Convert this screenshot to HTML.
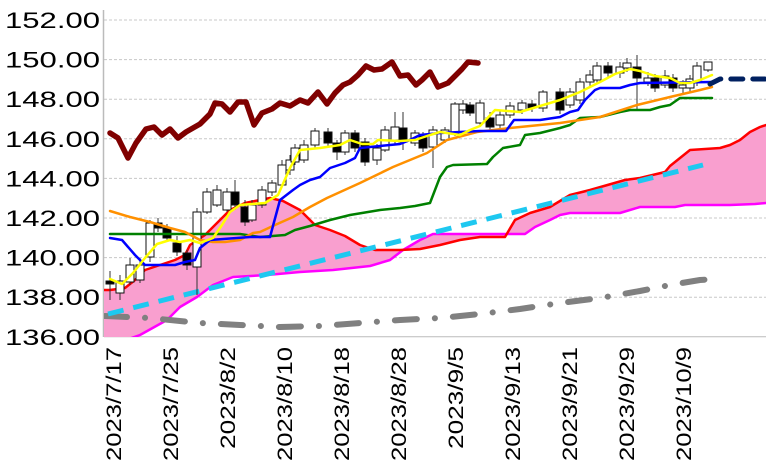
<!DOCTYPE html>
<html><head><meta charset="utf-8">
<style>
html,body{margin:0;padding:0;background:#fff;width:766px;height:472px;overflow:hidden}
svg{display:block;font-family:"Liberation Sans",sans-serif}
</style></head>
<body>
<svg id="s" width="766" height="472" viewBox="0 0 766 472" xmlns="http://www.w3.org/2000/svg">
<defs><clipPath id="c"><rect x="104" y="0" width="662" height="337"/></clipPath></defs>
<g id="grid"></g>
<g clip-path="url(#c)" id="plot"></g>
<g id="labels"></g>
</svg>
<script>
var NS="http://www.w3.org/2000/svg";
function el(p,t,a,txt){var e=document.createElementNS(NS,t);for(var k in a)e.setAttribute(k,a[k]);if(txt!==undefined)e.textContent=txt;document.getElementById(p).appendChild(e);return e;}
function Y(v){return 20+(152-v)*19.8;}
for(var v=136;v<=152;v+=2){var y=Y(v);
 el('grid','line',{x1:104,x2:766,y1:y,y2:y,stroke:v==136?'#bbb':'#c8c8c8','stroke-width':1,'stroke-dasharray':v==136?'':'3,2'});
 el('labels','text',{x:5,y:y+8,'font-size':22,fill:'#000',textLength:95,lengthAdjust:'spacingAndGlyphs'},v.toFixed(2));}
el('grid','line',{x1:103.5,x2:103.5,y1:10,y2:337,stroke:'#bbb','stroke-width':1.5});
var dates=[["2023/7/17",113,114],["2023/7/25",170,114],["2023/8/2",227,102],["2023/8/10",284,114],["2023/8/18",341,114],["2023/8/28",398,114],["2023/9/5",455,102],["2023/9/13",512,114],["2023/9/21",569,114],["2023/9/29",626,114],["2023/10/9",683,114]];
dates.forEach(function(d){el('labels','text',{x:0,y:0,'text-anchor':'end','font-size':21,fill:'#000',textLength:d[2],lengthAdjust:'spacingAndGlyphs',transform:'translate('+(d[1]+8)+',347) rotate(-90)'},d[0]);});
function pts(a){return a.map(function(p){return p[0]+','+p[1]}).join(' ');}
var red=[[100,290],[110,290],[125,288],[135,280],[145,270],[160,265],[175,260],[185,255],[190,245],[205,235],[215,225],[230,210],[245,203],[260,200],[270,198],[283,201],[300,210],[315,225],[330,230],[345,236],[360,245],[375,250],[400,250],[420,249],[440,245],[460,240],[480,237],[505,237],[515,220],[530,213],[550,207],[570,195],[590,190],[625,180],[640,178],[665,172],[670,166],[690,150],[720,148],[730,145],[740,140],[750,132],[760,127],[766,125]];
var mag=[[100,350],[120,342],[140,335],[167,320],[180,307],[197,297],[213,285],[233,277],[267,275],[300,272],[333,270],[370,266],[390,260],[403,250],[420,240],[433,234],[525,234],[535,227],[550,220],[560,215],[570,213],[620,213],[640,207],[675,207],[685,205],[730,205],[755,204],[766,203]];
var poly=red.concat(mag.slice().reverse());
el('plot','polygon',{points:pts(poly),fill:'#f99fcf'});
function line(a,c,w,extra){var o={points:pts(a),fill:'none',stroke:c,'stroke-width':w,'stroke-linejoin':'round','stroke-linecap':'round'};for(var k in extra)o[k]=extra[k];el('plot','polyline',o);}
line(mag,'#ff00ff',2.5);
line(red,'#ff0000',2.5);
line([[105,316],[150,318],[200,323],[240,325],[280,327],[320,326],[360,323],[400,320],[440,318],[480,314],[520,309],[560,303],[600,298],[640,291],[670,285],[700,280],[715,279]],'#808080',6,{'stroke-dasharray':'22,18,0.1,18'});
line([[108,314],[703,165]],'#1ec8f0',5,{'stroke-dasharray':'16,10','stroke-linecap':'butt'});
var C=[[110,281,284,271,300,1],[120,281,293,275,300,0],[130,265,282,258,285,0],[140,265,280,258,283,0],[150,223,257,220,262,0],[158,223,228,218,232,1],[167,228,238,224,242,1],[177,243,252,236,256,1],[187,253,265,250,270,1],[197,212,267,208,295,0],[207,192,212,188,214,0],[217,190,205,185,207,0],[227,192,210,188,212,0],[235,192,205,180,210,1],[245,207,222,200,226,1],[252,205,220,200,222,0],[262,190,205,186,208,0],[272,183,192,180,196,0],[282,165,185,160,188,0],[290,160,170,155,175,0],[295,148,162,144,165,0],[304,145,160,140,163,0],[315,131,145,128,148,0],[328,132,143,128,146,1],[337,143,152,140,160,1],[345,133,152,130,155,0],[355,133,148,130,152,1],[365,142,162,138,166,1],[377,148,160,144,165,0],[385,130,150,126,152,0],[395,127,140,112,144,0],[403,128,142,112,150,1],[415,133,143,130,146,0],[423,135,148,132,152,1],[433,130,147,126,168,0],[445,130,140,127,143,0],[455,104,133,102,136,0],[463,104,110,100,114,0],[470,105,113,102,116,1],[480,103,123,100,126,0],[490,118,127,112,132,1],[500,115,125,110,128,0],[510,106,115,102,118,0],[522,103,110,100,114,0],[532,104,108,100,112,1],[543,92,108,90,112,0],[560,92,110,88,114,1],[570,92,105,88,108,0],[580,82,100,78,104,0],[590,75,82,70,86,0],[597,66,80,62,84,0],[608,66,73,62,78,1],[620,67,73,62,78,0],[627,63,68,58,72,0],[637,67,78,55,110,1],[648,78,82,72,86,0],[655,78,88,74,92,1],[665,76,85,70,88,0],[673,78,88,74,92,1],[683,85,88,80,95,0],[690,79,88,75,92,0],[697,66,82,62,86,0],[708,62,70,62,72,0]];
C.forEach(function(c){var x=c[0];
 el('plot','line',{x1:x,x2:x,y1:c[3],y2:c[4],stroke:'#333','stroke-width':1});
 el('plot','rect',{x:x-4,y:c[1],width:8,height:Math.max(1,c[2]-c[1]),fill:c[5]?'#000':'#fff',stroke:'#111','stroke-width':1});});
line([[110,234],[240,234],[260,237],[285,235],[295,230],[310,226],[330,220],[350,215],[380,210],[400,208],[415,206],[430,203],[440,177],[447,167],[453,165],[487,164],[493,157],[503,148],[520,145],[525,135],[540,133],[560,128],[570,125],[580,118],[600,117],[620,112],[630,110],[650,110],[660,107],[670,105],[680,98],[712,98]],'#008000',2.5);
line([[110,211],[130,217],[150,222],[170,228],[185,232],[200,240],[213,242],[225,242],[240,240],[253,233],[260,232],[275,225],[293,217],[310,207],[327,198],[360,183],[393,167],[427,153],[447,140],[477,132],[510,128],[560,123],[600,117],[637,105],[670,97],[700,90],[712,87]],'#ff9000',2.5);
line([[110,238],[122,240],[135,255],[145,265],[175,265],[185,262],[195,260],[200,248],[210,240],[250,237],[270,237],[280,200],[293,190],[300,185],[310,180],[320,177],[330,168],[345,163],[355,158],[360,148],[380,146],[400,144],[410,140],[420,135],[440,133],[480,131],[506,131],[514,120],[540,120],[560,117],[570,112],[578,110],[585,100],[595,90],[600,88],[620,88],[630,85],[640,83],[712,82]],'#0000ff',2.5);
line([[110,279],[122,284],[133,273],[145,258],[157,244],[170,240],[180,242],[190,240],[200,243],[213,238],[222,225],[230,212],[240,205],[265,203],[278,195],[290,168],[300,150],[320,148],[340,145],[350,140],[362,144],[373,144],[378,140],[400,141],[415,140],[430,135],[440,132],[460,135],[470,130],[480,126],[495,110],[520,112],[540,106],[560,100],[580,92],[600,82],[615,74],[630,69],[640,71],[655,76],[670,78],[680,83],[690,83],[700,80],[712,75]],'#ffff00',2.5);
line([[110,133],[118,138],[128,158],[136,143],[146,129],[154,127],[162,135],[170,129],[178,138],[186,132],[193,128],[200,124],[210,114],[215,103],[222,104],[230,112],[238,102],[246,102],[254,125],[262,113],[272,109],[280,103],[290,106],[300,100],[308,103],[318,92],[327,104],[335,93],[343,85],[350,82],[358,75],[366,66],[374,70],[382,69],[392,62],[400,76],[408,75],[416,85],[422,80],[430,72],[438,87],[448,83],[455,76],[462,69],[468,62],[478,63]],'#800000',5.5);
line([[710,84],[720,79],[766,79]],'#002060',5,{'stroke-dasharray':'12,10'});
</script>
</body></html>
